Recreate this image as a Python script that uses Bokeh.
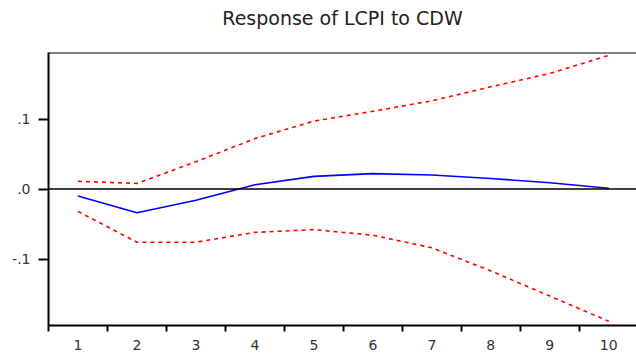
from bokeh.plotting import figure
from bokeh.models import Range1d, FixedTicker, Span, ColumnDataSource
from bokeh.embed import file_html
from bokeh.resources import INLINE

# ---- data ----
periods = [1, 2, 3, 4, 5, 6, 7, 8, 9, 10]
response = [-0.010, -0.034, -0.016, 0.006, 0.018, 0.022, 0.020, 0.015, 0.009, 0.001]
upper = [0.011, 0.008, 0.039, 0.072, 0.097, 0.111, 0.126, 0.146, 0.165, 0.191]
lower = [-0.032, -0.076, -0.076, -0.062, -0.058, -0.066, -0.084, -0.117, -0.153, -0.189]
y_tick_values = [-0.1, 0.0, 0.1]
y_tick_labels = ["-.1", ".0", ".1"]
title_text = "Response of LCPI to CDW"

X0, X1 = 0.5, 10.47
Y0, Y1 = -0.195, 0.195

src = ColumnDataSource(dict(x=periods, resp=response, up=upper, lo=lower))

p = figure(width=636, height=352, output_backend="svg", toolbar_location=None,
           x_range=Range1d(X0, X1), y_range=Range1d(Y0, Y1),
           min_border_left=48, min_border_right=0, min_border_top=52, min_border_bottom=27)

# a blank second line keeps the title high above the frame
p.title.text = title_text + "\n "
p.title.align = "center"
p.title.vertical_align = "bottom"
p.title.standoff = 4
p.title.text_font = "DejaVu Sans"
p.title.text_font_size = "19px"
p.title.text_font_style = "normal"
p.title.text_color = "#222222"

p.outline_line_color = None
p.grid.visible = False
p.background_fill_color = "white"
p.border_fill_color = "white"

# zero line and top frame line
p.add_layout(Span(location=0, dimension="width", line_color="black", line_width=1.6))
p.add_layout(Span(location=Y1, dimension="width", line_color="black", line_width=2))

# lines
p.line("x", "up", source=src, line_color="#ff0000", line_width=1.6, line_dash="4 4")
p.line("x", "lo", source=src, line_color="#ff0000", line_width=1.6, line_dash="4 4")
p.line("x", "resp", source=src, line_color="#0000ff", line_width=1.6)

# x axis: labels at centers, ticks at category boundaries (as minor ticks)
xa = p.xaxis[0]
xa.ticker = FixedTicker(ticks=periods, minor_ticks=[v - 0.5 for v in periods])
xa.major_tick_line_color = None
xa.major_tick_out = 6
xa.major_tick_in = 0
xa.minor_tick_out = 6
xa.minor_tick_in = 0
xa.minor_tick_line_color = "black"
xa.minor_tick_line_width = 2
xa.axis_line_color = "black"
xa.axis_line_width = 2
xa.major_label_standoff = 8
xa.major_label_text_font = "DejaVu Sans"
xa.major_label_text_font_size = "14px"
xa.major_label_text_color = "#333333"

ya = p.yaxis[0]
ya.ticker = FixedTicker(ticks=y_tick_values, minor_ticks=[])
ya.major_label_overrides = {v: s for v, s in zip(y_tick_values, y_tick_labels)}
ya.major_tick_out = 10
ya.major_tick_in = 0
ya.major_tick_line_width = 2
ya.major_tick_line_color = "black"
ya.axis_line_color = "black"
ya.axis_line_width = 2
ya.major_label_standoff = 8
ya.major_label_text_font = "DejaVu Sans"
ya.major_label_text_font_size = "14px"
ya.major_label_text_color = "#333333"

open("out.html", "w").write(file_html(p, INLINE))
